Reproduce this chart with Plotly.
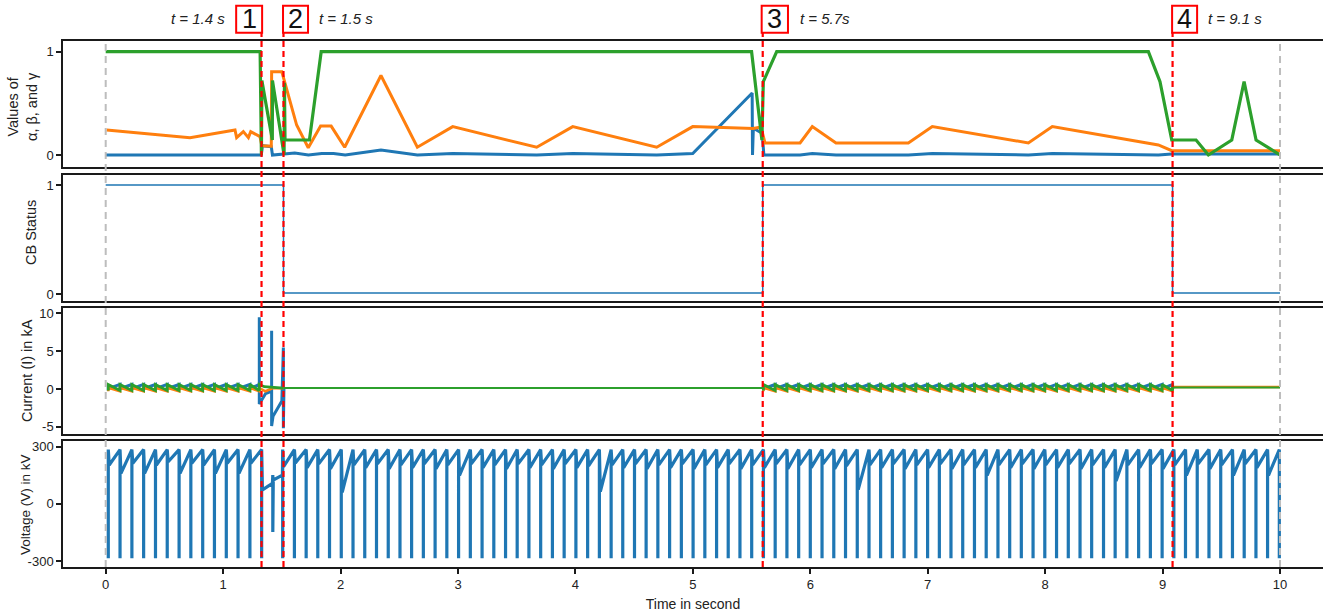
import plotly.graph_objects as go

# ---------------- events ----------------
event_t = [1.327, 1.514, 5.595, 9.085]
event_nums = ["1", "2", "3", "4"]
event_labels = ["t = 1.4 s", "t = 1.5 s", "t = 5.7s", "t = 9.1 s"]
box_x0 = [1.111, 1.510, 5.586, 9.081]
box_x1 = [1.332, 1.723, 5.810, 9.294]
label_x = [1.033, 1.799, 5.896, 9.370]
label_anchor = ["right", "left", "left", "left"]

# ---------------- alpha, beta, gamma ----------------
alpha_t = [0.0, 1.325, 1.335, 1.41, 1.42, 1.61, 1.726, 1.84, 1.94, 2.04, 2.344, 2.654,
           2.955, 3.67, 3.977, 4.692, 4.999, 5.505, 5.508, 5.515, 5.59, 5.605, 5.913,
           6.017, 6.219, 6.835, 7.039, 7.857, 8.061, 8.964, 9.078, 10.0]
alpha_v = [0.0, 0.0, 0.09, 0.08, 0.0, 0.02, 0.0, 0.015, 0.015, 0.0, 0.048, 0.0,
           0.015, 0.0, 0.015, 0.0, 0.015, 0.6, 0.0, 0.26, 0.21, 0.0, 0.0,
           0.015, 0.0, 0.0, 0.015, 0.0, 0.015, 0.0, 0.01, 0.01]

beta_t = [0.008, 0.718, 1.101, 1.115, 1.172, 1.215, 1.235, 1.314, 1.33, 1.41, 1.413,
          1.50, 1.626, 1.725, 1.83, 1.92, 2.035, 2.344, 2.654, 2.955, 3.67, 3.977,
          4.692, 4.999, 5.515, 5.58, 5.614, 5.913, 6.017, 6.219, 6.835, 7.039, 7.857,
          8.061, 8.964, 9.078, 10.0]
beta_v = [0.242, 0.168, 0.242, 0.168, 0.226, 0.168, 0.226, 0.178, 0.09, 0.085, 0.806,
          0.806, 0.29, 0.07, 0.28, 0.28, 0.075, 0.77, 0.075, 0.275, 0.075, 0.275,
          0.075, 0.275, 0.256, 0.27, 0.117, 0.117, 0.275, 0.117, 0.117, 0.275, 0.117,
          0.275, 0.097, 0.042, 0.042]

gamma_t = [0.0, 1.315, 1.326, 1.33, 1.419, 1.42, 1.519, 1.522, 1.527, 1.735, 1.835,
           5.50, 5.588, 5.60, 5.714, 8.879, 8.978, 9.078, 9.285, 9.39, 9.589, 9.694,
           9.796, 10.0]
gamma_v = [1.0, 1.0, 0.0, 0.72, 0.145, 0.72, 0.0, 0.70, 0.145, 0.145, 1.0,
           1.0, 0.145, 0.71, 1.0, 1.0, 0.71, 0.145, 0.145, 0.0, 0.145, 0.71,
           0.145, 0.0]

# ---------------- circuit breaker status ----------------
cb_t = [0.0, 1.514, 1.514, 5.595, 5.595, 9.085, 9.085, 10.0]
cb_v = [1.0, 1.0, 0.01, 0.01, 1.0, 1.0, 0.01, 0.01]

# ---------------- current (kA) ----------------
i_samples_a = [0.022, 0.122, 0.223, 0.323, 0.424, 0.524, 0.625, 0.725, 0.826, 0.926,
               1.027, 1.127, 1.228, 1.308]
i_samples_c = [5.601, 5.701, 5.801, 5.901, 6.000, 6.100, 6.200, 6.300, 6.400, 6.500,
               6.599, 6.699, 6.799, 6.899, 6.999, 7.099, 7.198, 7.298, 7.398, 7.498,
               7.598, 7.698, 7.797, 7.897, 7.997, 8.097, 8.197, 8.297, 8.396, 8.497,
               8.596, 8.696, 8.796, 8.896, 8.996, 9.085]
ia_hi, ia_lo = 0.6, 0.05
ib_hi, ib_lo = 0.15, -0.3
ic_hi, ic_lo = 0.6, -0.2
i_open_level = 0.12
i_end_level = 0.2

ia_fault_t = [1.308, 1.308, 1.308, 1.362, 1.413, 1.413, 1.413, 1.425, 1.500, 1.513, 1.513, 1.518]
ia_fault_v = [ia_hi, 9.5, -2.0, -0.6, -0.3, 7.7, -4.9, -3.6, -1.6, 5.5, -5.2, 0.12]
ib_fault_t = [1.36, 1.42, 1.514]
ib_fault_v = [-0.3, 0.1, 0.1]
ic_fault_t = [1.35, 1.42, 1.514]
ic_fault_v = [0.3, 0.25, 0.12]
ic_flat_t = [1.514, 5.595, None, 9.085, 10.0]
ic_flat_v = [i_open_level, i_open_level, None, i_end_level, i_end_level]

# ---------------- voltage (kV) ----------------
v_top, v_bot = 285, -285
v_hook = 0.008
v_strokes_a = [0.022, 0.122, 0.223, 0.323, 0.424, 0.524, 0.625, 0.725, 0.826, 0.926,
               1.027, 1.127, 1.228, 1.328]
v_levels_a = [204, 160, 213, 160, 204, 221, 160, 213, 204, 160, 213, 160, 213]
v_fault_t = [1.335, 1.42, 1.423, 1.423, 1.427, 1.505]
v_fault_v = [73, 108, 151, -148, 125, 151]
v_strokes_b = [1.507, 1.607, 1.707, 1.806, 1.906, 2.006, 2.106, 2.206, 2.306, 2.406,
               2.506, 2.605, 2.705, 2.805, 2.905, 3.005, 3.105, 3.205, 3.305, 3.405,
               3.504, 3.604, 3.704, 3.804, 3.904, 4.004, 4.104, 4.204, 4.304, 4.403,
               4.503, 4.602, 4.702, 4.802, 4.902, 5.002, 5.102, 5.202, 5.301, 5.401,
               5.501, 5.601, 5.701, 5.801, 5.901, 6.000, 6.100, 6.200, 6.300, 6.400,
               6.500, 6.599, 6.699, 6.799, 6.899, 6.999, 7.099, 7.198, 7.298, 7.398,
               7.498, 7.598, 7.698, 7.797, 7.897, 7.997, 8.097, 8.197, 8.297, 8.396,
               8.497, 8.596, 8.696, 8.796, 8.896, 8.996, 9.096, 9.195, 9.295, 9.395,
               9.495, 9.595, 9.695, 9.795, 9.894, 9.994]
v_levels_b = [195, 215, 190, 210, 185, 60, 205, 190, 210, 185,
              205, 190, 210, 185, 205, 150, 210, 190, 205, 185,
              210, 190, 205, 185, 210, 190, 200, 65, 205, 190,
              210, 185, 205, 190, 210, 185, 205, 190, 210, 185,
              205, 190, 210, 185, 205, 190, 210, 185, 200, 75,
              205, 190, 210, 185, 205, 190, 210, 185, 205, 190,
              150, 205, 190, 210, 185, 205, 190, 210, 185, 205,
              190, 120, 205, 190, 210, 185, 205, 150, 210, 185,
              205, 150, 210, 190, 150]

BLUE, ORANGE, GREEN = "#1f77b4", "#ff7f0e", "#2ca02c"


def saw(times, start, end):
    """Vertical jump start->end at each sample, straight line to the next sample."""
    xs, ys = [], []
    for t in times:
        xs += [t, t]
        ys += [start, end]
    return xs, ys


def strokes(times, levels):
    """Full-swing vertical strokes, each followed by a ramp up to the next one."""
    xs, ys = [], []
    for i, t in enumerate(times):
        xs += [t, t, t]
        ys += [v_top, v_bot, v_top]
        if i < len(levels):
            xs.append(t + v_hook)
            ys.append(levels[i])
    return xs, ys


# current phase paths (None breaks the line where a phase is hidden)
xa1, ya1 = saw(i_samples_a[:-1], ia_hi, ia_lo)
xa3, ya3 = saw(i_samples_c, ia_hi, ia_lo)
ia_t = xa1 + ia_fault_t + [None] + xa3
ia_v = ya1 + ia_fault_v + [None] + ya3

xb1, yb1 = saw(i_samples_a, ib_lo, ib_hi)
xb3, yb3 = saw(i_samples_c, ib_lo, ib_hi)
ib_t = xb1 + ib_fault_t + [None] + xb3 + [9.1, 10.0]
ib_v = yb1 + ib_fault_v + [None] + yb3 + [i_end_level + 0.06, i_end_level + 0.06]

xc1, yc1 = saw(i_samples_a, ic_lo, ic_hi)
xc3, yc3 = saw(i_samples_c, ic_lo, ic_hi)
ic_t = xc1 + ic_fault_t + [None] + xc3
ic_v = yc1 + ic_fault_v + [None] + yc3

# voltage path
xv1, yv1 = strokes(v_strokes_a, v_levels_a)
xv2, yv2 = strokes(v_strokes_b, v_levels_b)
v_t = xv1 + v_fault_t + xv2
v_v = yv1 + v_fault_v + yv2

fig = go.Figure()


def add(x, y, color, width, panel):
    fig.add_trace(go.Scatter(
        x=x, y=y, mode="lines", line=dict(color=color, width=width),
        xaxis="x" if panel == 1 else f"x{panel}",
        yaxis="y" if panel == 1 else f"y{panel}",
        hoverinfo="skip", connectgaps=False))


add(alpha_t, alpha_v, BLUE, 3, 1)
add(beta_t, beta_v, ORANGE, 3, 1)
add(gamma_t, gamma_v, GREEN, 3.2, 1)
add(cb_t, cb_v, BLUE, 1.5, 2)
add(ia_t, ia_v, BLUE, 3, 3)
add(ib_t, ib_v, ORANGE, 2.5, 3)
add(ic_t, ic_v, GREEN, 2.8, 3)
add(ic_flat_t, ic_flat_v, GREEN, 2, 3)
add(v_t, v_v, BLUE, 3.2, 4)

# layout geometry (figure pixels)
L, T, B, W, H = 63, 41, 49, 1323, 616
PH = H - T - B


def py(p):
    return (H - B - p) / PH


def px(p):
    return (p - L) / (W - L)


XR = [-0.3636, 10.366]
panels = [(41.0, 166.7), (174.5, 300.7), (307.8, 434.0), (441.0, 567.0)]
yranges = [[-0.1133, 1.1036], [-0.0615, 1.096], [-5.96, 10.75], [-331.5, 330]]
ytv = [[1, 0], [1, 0], [10, 5, 0, -5], [300, 0, -300]]
ytt = [["1", "0"], ["1", "0"], ["10", "5", "0", "-5"], ["300", "0", "-300"]]

FONT = "Liberation Sans, Arial, sans-serif"
INK = "#1a1a1a"
axis_common = dict(showgrid=False, zeroline=False, showline=True, linecolor=INK,
                   linewidth=1.5, tickcolor=INK, tickwidth=1.5, ticklen=5,
                   tickfont=dict(family=FONT, size=13, color="#222"))

lay = {}
for k in range(4):
    sx = "xaxis" if k == 0 else f"xaxis{k + 1}"
    sy = "yaxis" if k == 0 else f"yaxis{k + 1}"
    ya = "y" if k == 0 else f"y{k + 1}"
    xa = "x" if k == 0 else f"x{k + 1}"
    top, bot = panels[k]
    xd = dict(axis_common, domain=[0, 1], anchor=ya, range=XR, mirror=True)
    if k < 3:
        xd.update(showticklabels=False, ticks="")
        if k > 0:
            xd["matches"] = "x"
    else:
        xd.update(ticks="outside", tickvals=list(range(11)), matches="x",
                  title=dict(text="Time in second", standoff=8,
                             font=dict(family=FONT, size=14, color="#222")))
    lay[sx] = xd
    lay[sy] = dict(axis_common, domain=[py(bot), py(top)], anchor=xa,
                   range=yranges[k], ticks="outside", tickvals=ytv[k],
                   ticktext=ytt[k], mirror=False)

fig.update_layout(**lay)
fig.update_layout(width=W, height=H, margin=dict(l=L, r=0, t=T, b=B),
                  paper_bgcolor="white", plot_bgcolor="white", showlegend=False,
                  font=dict(family=FONT, size=13, color="#222"))

shapes = []
# boundaries of the simulated window
for xv in [0, 10]:
    shapes.append(dict(type="line", xref="x", yref="paper", x0=xv, x1=xv,
                       y0=py(567), y1=py(41), layer="above",
                       line=dict(color="#bdbdbd", width=2, dash="7px,5px")))
# event markers
for k, te in enumerate(event_t):
    shapes.append(dict(type="line", xref="x", yref="paper", x0=te, x1=te,
                       y0=py(567), y1=py(32), layer="above",
                       line=dict(color="#ff0000", width=2.2, dash="6px,4px")))
    shapes.append(dict(type="rect", xref="x", yref="paper", x0=box_x0[k], x1=box_x1[k],
                       y0=py(32.7), y1=py(5.7), layer="above",
                       line=dict(color="#ff0000", width=2), fillcolor="white"))
fig.update_layout(shapes=shapes)

ann = []
for k in range(4):
    ann.append(dict(x=(box_x0[k] + box_x1[k]) / 2, y=py(19.5), xref="x", yref="paper",
                    text=event_nums[k], showarrow=False, xanchor="center", yanchor="middle",
                    font=dict(family=FONT, size=27, color="#111")))
    ann.append(dict(x=label_x[k], y=py(19), xref="x", yref="paper",
                    text=f"<i>{event_labels[k]}</i>", showarrow=False,
                    xanchor=label_anchor[k], yanchor="middle",
                    font=dict(family=FONT, size=15, color="#222")))

ytitles = [("Values of<br>α, β, and γ", 23, 107, 14.5), ("CB Status", 31, 233, 14.5),
           ("Current (I) in kA", 27, 371, 14.5), ("Voltage (V) in kV", 25, 505, 13.5)]
for text, xp, yp, fs in ytitles:
    ann.append(dict(x=px(xp), y=py(yp), xref="paper", yref="paper", text=text,
                    showarrow=False, textangle=-90, xanchor="center", yanchor="middle",
                    font=dict(family=FONT, size=fs, color="#222")))
fig.update_layout(annotations=ann)

fig.write_html("out.html")
